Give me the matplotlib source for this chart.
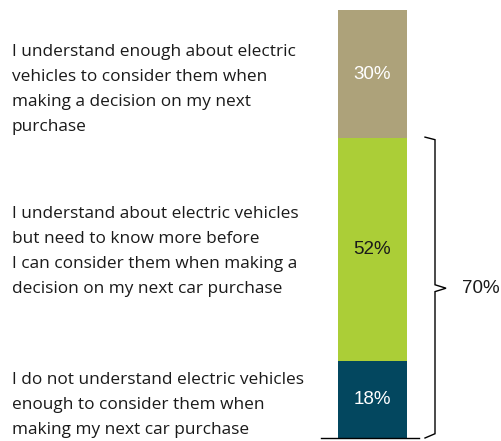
import matplotlib.pyplot as plt

# survey answers, bottom to top
answers = [
    "I do not understand electric vehicles\nenough to consider them when\nmaking my next car purchase",
    "I understand about electric vehicles\nbut need to know more before\nI can consider them when making a\ndecision on my next car purchase",
    "I understand enough about electric\nvehicles to consider them when\nmaking a decision on my next\npurchase",
]
shares = [18, 52, 30]
colors = ['#03475f', '#abce37', '#ada27a']
label_colors = ['white', '#1a1a1a', 'white']
bracket_total = 70

# vertical placement of the answer texts (axis units)
text_y = [7.8, 43.6, 81.4]

fw, fh = 5.02, 4.41
fig = plt.figure(figsize=(fw, fh), dpi=100, facecolor='w')
ax = fig.add_axes([0, 3 / 441, 1, 428 / 441])
ax.set_xlim(0, 502)
ax.set_ylim(0, 100)
ax.axis('off')

bar_x, bar_w = 372.5, 69
bottom = 0
for val, col, lcol, txt, ty in zip(shares, colors, label_colors, answers, text_y):
    ax.bar(bar_x, val, width=bar_w, bottom=bottom, color=col, edgecolor='none')
    ax.text(bar_x, bottom + val / 2, '%d%%' % val, ha='center', va='center',
            color=lcol, fontsize=13.5, family='Liberation Sans')
    ax.text(12, ty, txt, ha='left', va='center', fontsize=12.4,
            family='Open Sans', color='#1a1a1a', linespacing=1.75)
    bottom += val

# baseline under the bar
ax.plot([321, 419], [0, 0], color='black', lw=1.0, clip_on=False)

# curly bracket around the lower two segments
top = bracket_total
mid = top / 2
bx, hx, tip = 435, 425, 446
ax.plot([hx, bx, bx, tip, bx, bx, hx],
        [top + 0.3, top - 0.3, mid + 0.8, mid, mid - 0.8, 1.0, 0.0],
        color='black', lw=1.0, clip_on=False, solid_joinstyle='miter')
ax.text(481, mid, '%d%%' % bracket_total, ha='center', va='center',
        fontsize=13.5, family='Liberation Sans', color='#1a1a1a')

plt.savefig('out.png', dpi=100)
